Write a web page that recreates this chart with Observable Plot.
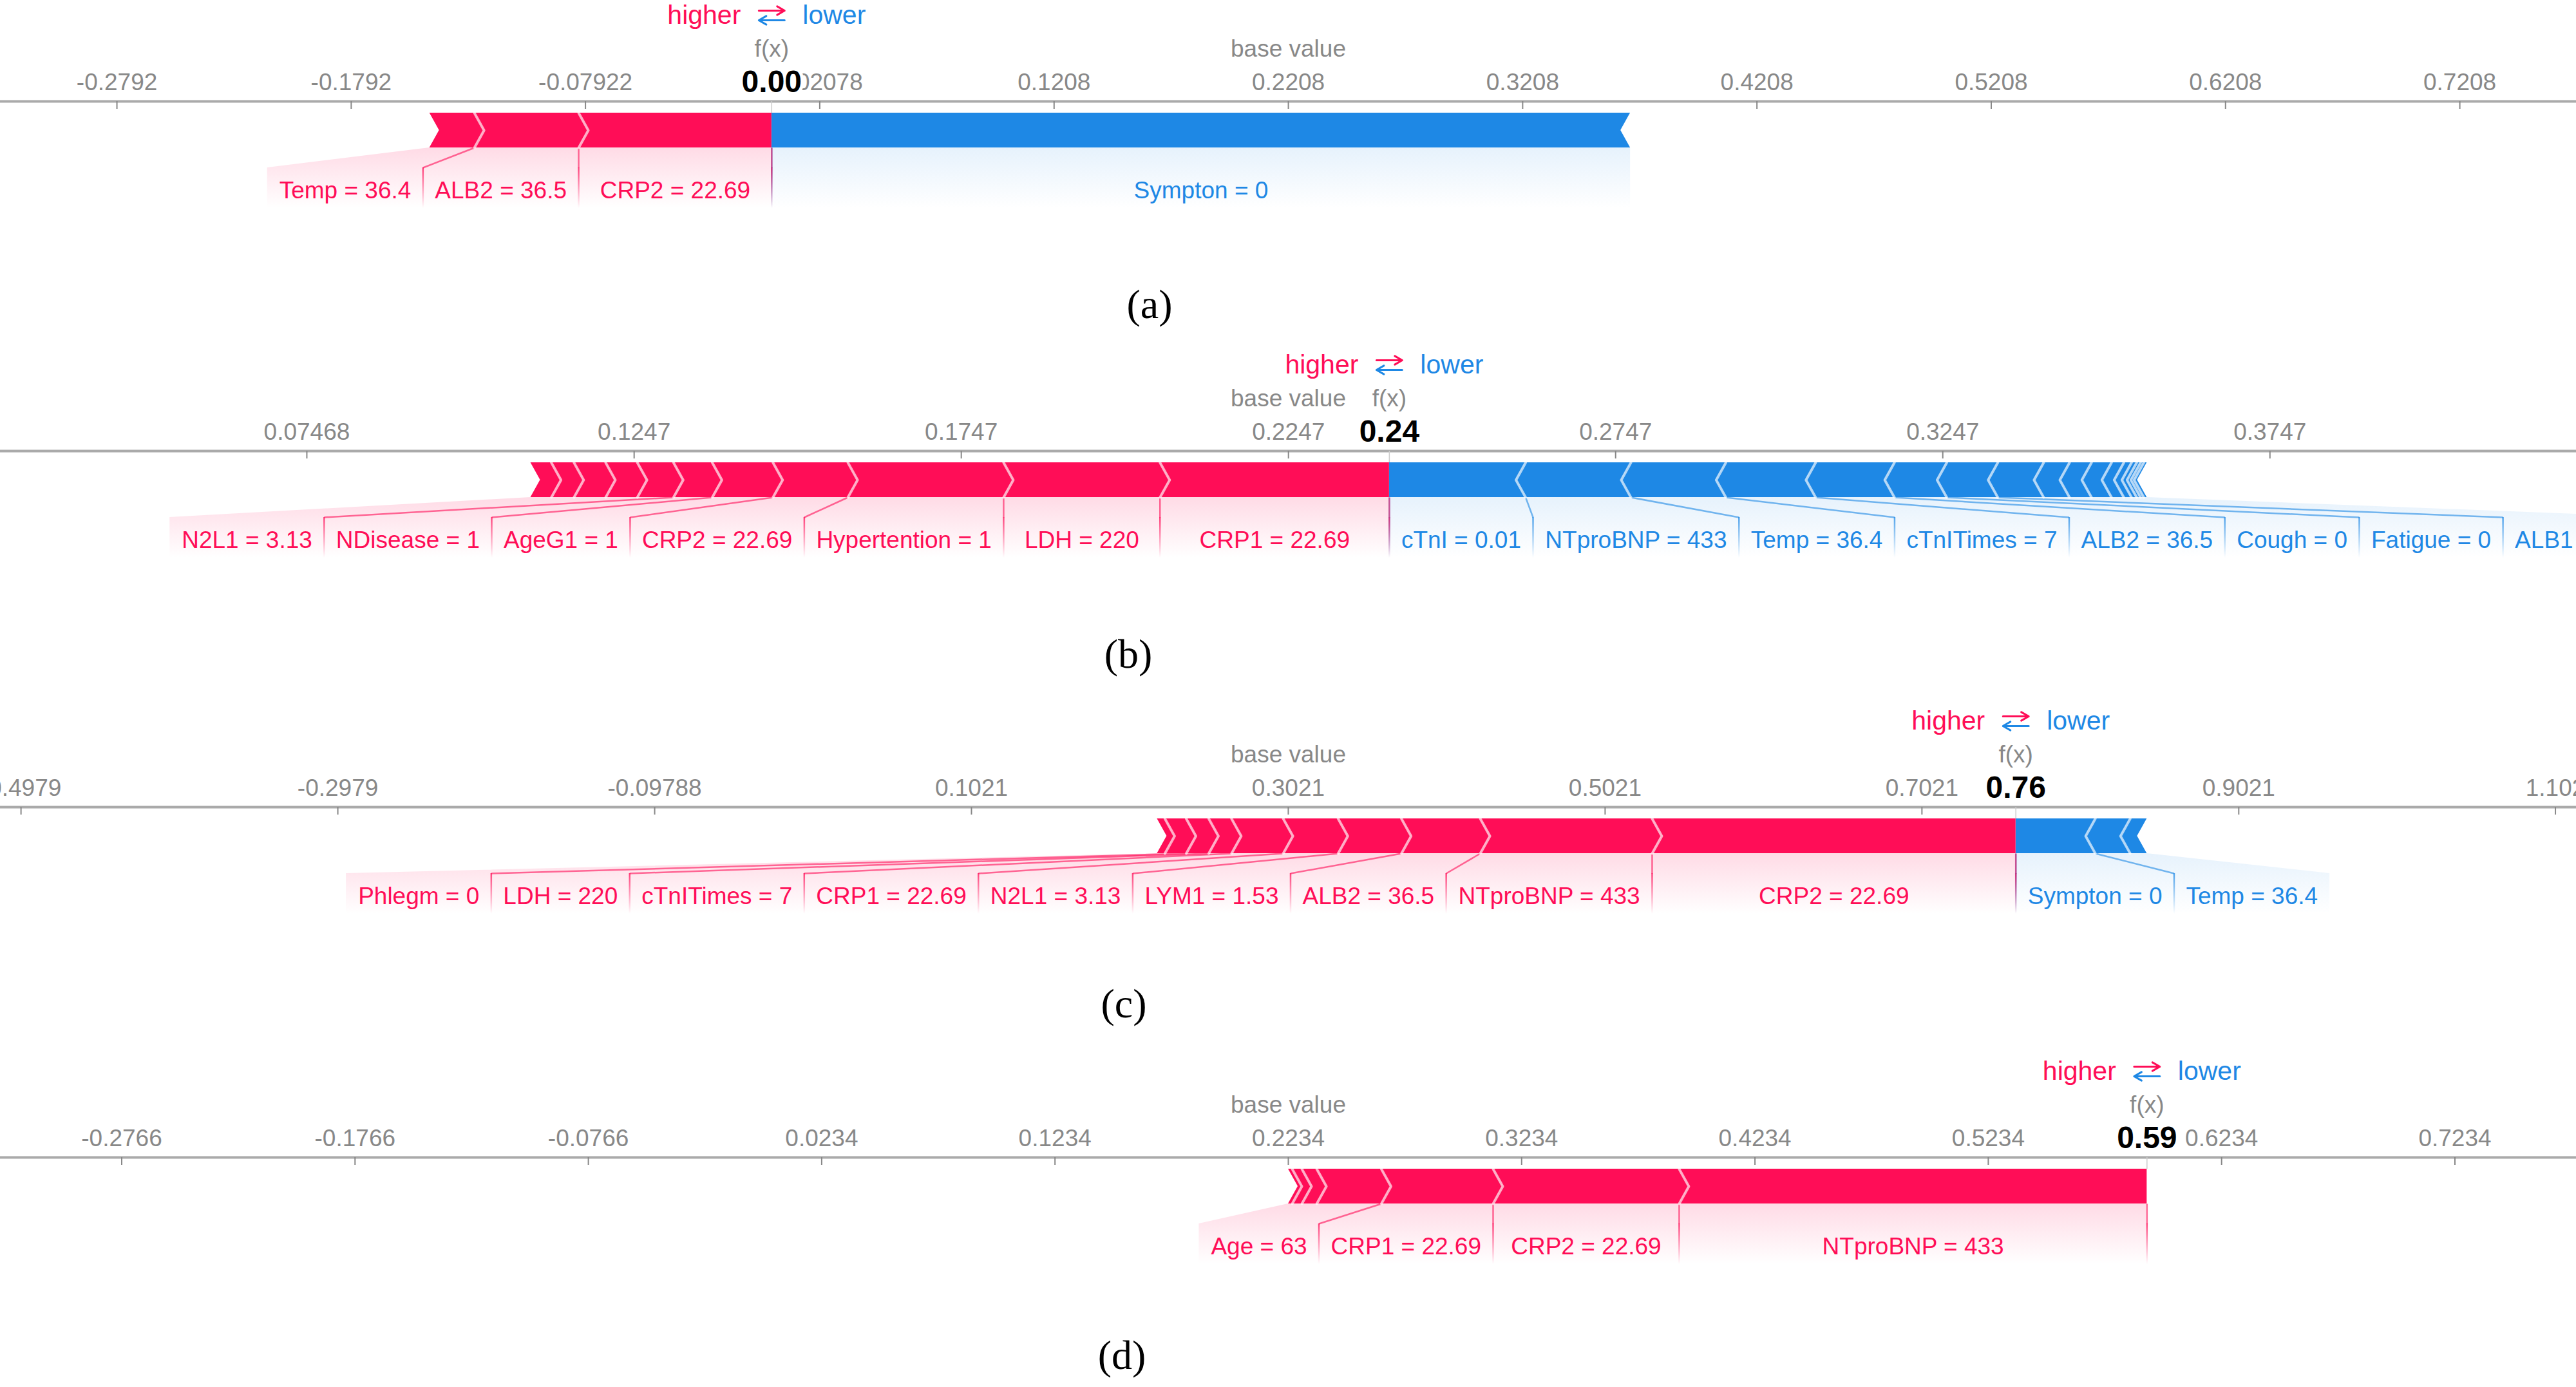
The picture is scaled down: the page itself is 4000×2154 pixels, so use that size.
<!DOCTYPE html>
<html><head><meta charset="utf-8">
<script src="https://cdn.jsdelivr.net/npm/d3@7"></script>
<script src="https://cdn.jsdelivr.net/npm/@observablehq/plot@0.6"></script>
<style>
html,body{margin:0;padding:0;background:#fff;overflow:hidden}
#root{position:relative;width:4000px;height:2154px;background:#fff}
.panel{position:absolute;left:0}
.cap{position:absolute;font-family:"Liberation Serif","Times New Roman",serif;font-size:64px;line-height:64px;color:#000;transform:translate(-50%,0);white-space:nowrap}
</style></head><body><div id="root"></div>
<script>
// ===================== DATA =====================
const captions = ["(a)", "(b)", "(c)", "(d)"];

// (a)
const baseA = 0.22078;
const posNamesA = ["CRP2", "ALB2", "Temp"];
const posValsA = [22.69, 36.5, 36.4];
const posShapA = [0.0824, 0.0445, 0.0191];
const negNamesA = ["Sympton"];
const negValsA = [0];
const negShapA = [0.3665];
const ticksA = ["-0.2792", "-0.1792", "-0.07922", "0.02078", "0.1208", "0.2208", "0.3208", "0.4208", "0.5208", "0.6208", "0.7208"];

// (b)
const baseB = 0.22468;
const posNamesB = ["CRP1", "LDH", "Hypertention", "CRP2", "AgeG1", "NDisease", "N2L1", null, null, null, null];
const posValsB = [22.69, 220, 1, 22.69, 1, 1, 3.13, null, null, null, null];
const posShapB = [0.03505, 0.0239, 0.0238, 0.01145, 0.00928, 0.00592, 0.00553, 0.00484, 0.00484, 0.00346, 0.00316];
const negNamesB = ["cTnI", "NTproBNP", "Temp", "cTnITimes", "ALB2", "Cough", "Fatigue", "ALB1", null, null, null, null, null, null, null, null, null];
const negValsB = [0.01, 433, 36.4, 7, 36.5, 0, 0, 36.5, null, null, null, null, null, null, null, null, null];
const negShapB = [0.02083, 0.01609, 0.01451, 0.01372, 0.01204, 0.0080, 0.0078, 0.00701, 0.00395, 0.00336, 0.00306, 0.00188, 0.00118, 0.00079, 0.00059, 0.00049, 0.00049];
const ticksB = ["0.07468", "0.1247", "0.1747", "0.2247", "0.2747", "0.3247", "0.3747"];

// (c)
const baseC = 0.30212;
const posNamesC = ["CRP2", "NTproBNP", "ALB2", "LYM1", "N2L1", "CRP1", "cTnITimes", "LDH", "Phlegm", null];
const posValsC = [22.69, 433, 36.5, 1.53, 3.13, 22.69, 7, 220, 0, null];
const posShapC = [0.2296, 0.1085, 0.04975, 0.03997, 0.03466, 0.03262, 0.0144, 0.0142, 0.01346, 0.00489];
const negNamesC = ["Sympton", "Temp", null];
const negValsC = [0, 36.4, null];
const negShapC = [0.05016, 0.02202, 0.0106];
const ticksC = ["-0.4979", "-0.2979", "-0.09788", "0.1021", "0.3021", "0.5021", "0.7021", "0.9021", "1.102"];

// (d)
const baseD = 0.2234;
const posNamesD = ["NTproBNP", "CRP2", "CRP1", "Age", null, null, null];
const posValsD = [433, 22.69, 22.69, 63, null, null, null];
const posShapD = [0.2005, 0.07975, 0.0479, 0.02769, 0.00637, 0.00415, 0.00166];
const negNamesD = [];
const negValsD = [];
const negShapD = [];
const ticksD = ["-0.2766", "-0.1766", "-0.0766", "0.0234", "0.1234", "0.2234", "0.3234", "0.4234", "0.5234", "0.6234", "0.7234"];

const panels = [
  {base: baseA, posNames: posNamesA, posVals: posValsA, posShap: posShapA, negNames: negNamesA, negVals: negValsA, negShap: negShapA, ticks: ticksA},
  {base: baseB, posNames: posNamesB, posVals: posValsB, posShap: posShapB, negNames: negNamesB, negVals: negValsB, negShap: negShapB, ticks: ticksB},
  {base: baseC, posNames: posNamesC, posVals: posValsC, posShap: posShapC, negNames: negNamesC, negVals: negValsC, negShap: negShapC, ticks: ticksC},
  {base: baseD, posNames: posNamesD, posVals: posValsD, posShap: posShapD, negNames: negNamesD, negVals: negValsD, negShap: negShapD, ticks: ticksD}
];

// ===================== LAYOUT / STYLE =====================
const W = 4000, AX = 160, H = 335;
const axisY = [157, 700, 1253, 1797];
const capPos = [[1785, 480], [1752, 1023], [1745, 1566], [1742, 2112]];
const BAR_T = AX + 18, BAR_B = AX + 72, BAR_M = (BAR_T + BAR_B) / 2;
const LINK_Y = AX + 103, LAB_Y = AX + 150, BOT_Y = AX + 166;
const TIP = 15, PAD = 37, LABEL_FONT = 37;
const RED = "#ff0d57", BLUE = "#1e88e5";
const FONT = '"Liberation Sans", Arial, sans-serif';

const cv = document.createElement("canvas").getContext("2d");
cv.font = `${LABEL_FONT}px "Liberation Sans"`;
const textW = s => cv.measureText(s).width;

function addDefs(svg, k) {
  const NS = "http://www.w3.org/2000/svg";
  const defs = document.createElementNS(NS, "defs");
  const mk = (id, color, o0, y1, y2) => {
    const g = document.createElementNS(NS, "linearGradient");
    g.setAttribute("id", id);
    g.setAttribute("gradientUnits", "userSpaceOnUse");
    g.setAttribute("x1", 0); g.setAttribute("x2", 0);
    g.setAttribute("y1", y1); g.setAttribute("y2", y2);
    [[0, o0], [1, 0]].forEach(([off, op]) => {
      const s = document.createElementNS(NS, "stop");
      s.setAttribute("offset", off);
      s.setAttribute("stop-color", color);
      s.setAttribute("stop-opacity", op);
      g.appendChild(s);
    });
    defs.appendChild(g);
  };
  mk(`bgR${k}`, RED, 0.15, BAR_B, BOT_Y);
  mk(`bgB${k}`, BLUE, 0.11, BAR_B, BOT_Y);
  mk(`dvR${k}`, RED, 0.75, LINK_Y, BOT_Y);
  mk(`dvB${k}`, BLUE, 0.75, LINK_Y, BOT_Y);
  svg.insertBefore(defs, svg.firstChild);
}

function buildPanel(P, k) {
  const sumPos = d3.sum(P.posShap), sumNeg = d3.sum(P.negShap);
  const fx = P.base + sumPos - sumNeg;
  const M = Math.max(sumPos, sumNeg);
  const domain = [P.base - 1.5 * M, P.base + 1.5 * M];
  const sx = Plot.scale({x: {domain, range: [0, W]}});
  const px = v => sx.apply(v), inv = p => sx.invert(p);
  const tipU = TIP * (domain[1] - domain[0]) / W;

  // segments
  const reds = [], blues = [];
  let cur = fx;
  P.posShap.forEach((e, i) => { reds.push({i, name: P.posNames[i], val: P.posVals[i], lo: cur - e, hi: cur}); cur -= e; });
  const redEnd = cur;
  cur = fx;
  P.negShap.forEach((e, i) => { blues.push({i, name: P.negNames[i], val: P.negVals[i], lo: cur, hi: cur + e}); cur += e; });
  const blueEnd = cur;

  // blocks (chevrons)
  const redBlocks = [], blueBlocks = [], seps = [];
  reds.forEach((s, i) => {
    const id = "r" + i;
    redBlocks.push({id, y: BAR_T, x1: s.lo, x2: s.hi},
                   {id, y: BAR_M, x1: s.lo + tipU, x2: i === 0 ? s.hi : s.hi + tipU},
                   {id, y: BAR_B, x1: s.lo, x2: s.hi});
    if (i > 0) seps.push({id: "sr" + i, x: s.hi, y: BAR_T}, {id: "sr" + i, x: s.hi + tipU, y: BAR_M}, {id: "sr" + i, x: s.hi, y: BAR_B});
  });
  blues.forEach((s, i) => {
    const id = "b" + i;
    blueBlocks.push({id, y: BAR_T, x1: s.lo, x2: s.hi},
                    {id, y: BAR_M, x1: i === 0 ? s.lo : s.lo - tipU, x2: s.hi - tipU},
                    {id, y: BAR_B, x1: s.lo, x2: s.hi});
    if (i > 0) seps.push({id: "sb" + i, x: s.lo, y: BAR_T}, {id: "sb" + i, x: s.lo - tipU, y: BAR_M}, {id: "sb" + i, x: s.lo, y: BAR_B});
  });

  // labels
  const redLab = reds.filter(s => s.name), blueLab = blues.filter(s => s.name);
  const backR = [], backB = [], linksR = [], linksB = [], divR = [], divB = [], texts = [];
  let edge = px(fx);
  redLab.forEach((s, j) => {
    const t = `${s.name} = ${s.val}`;
    const w = Math.max(textW(t) + PAD, px(s.hi) - px(s.lo));
    const c = (px(s.lo) + px(s.hi)) / 2;
    const R = Math.min(c + w / 2, edge), L = R - w;
    edge = L;
    const id = "br" + j;
    const lo = j === redLab.length - 1 ? redEnd : s.lo;
    backR.push({id, y: BAR_B, x1: lo, x2: s.hi}, {id, y: LINK_Y, x1: inv(L), x2: inv(R)}, {id, y: BOT_Y, x1: inv(L), x2: inv(R)});
    linksR.push({x1: s.hi, x2: inv(R)});
    divR.push(inv(R));
    texts.push({x: inv((L + R) / 2), text: t, color: RED});
  });
  edge = px(fx);
  blueLab.forEach((s, j) => {
    const t = `${s.name} = ${s.val}`;
    const w = Math.max(textW(t) + PAD, px(s.hi) - px(s.lo));
    const c = (px(s.lo) + px(s.hi)) / 2;
    const L = Math.max(c - w / 2, edge), R = L + w;
    edge = R;
    const id = "bb" + j;
    const hi = j === blueLab.length - 1 ? blueEnd : s.hi;
    backB.push({id, y: BAR_B, x1: s.lo, x2: hi}, {id, y: LINK_Y, x1: inv(L), x2: inv(R)}, {id, y: BOT_Y, x1: inv(L), x2: inv(R)});
    linksB.push({x1: s.lo, x2: inv(L)});
    divB.push(inv(L));
    texts.push({x: inv((L + R) / 2), text: t, color: BLUE});
  });

  const arrowHalf = 20 * (domain[1] - domain[0]) / W;

  const svg = Plot.plot({
    width: W, height: H,
    marginLeft: 0, marginRight: 0, marginTop: 0, marginBottom: 0,
    x: {domain, range: [0, W], axis: null},
    y: {domain: [0, H], range: [0, H], axis: null},
    style: {fontFamily: FONT, background: "transparent", overflow: "hidden"},
    marks: [
      // label backings
      Plot.areaX(backB, {y: "y", x1: "x1", x2: "x2", z: "id", fill: `url(#bgB${k})`, curve: "linear"}),
      Plot.areaX(backR, {y: "y", x1: "x1", x2: "x2", z: "id", fill: `url(#bgR${k})`, curve: "linear"}),
      // dividers
      Plot.ruleX(divB, {x: d => d, y1: LINK_Y, y2: BOT_Y, stroke: `url(#dvB${k})`, strokeWidth: 2.5}),
      Plot.ruleX(divR, {x: d => d, y1: LINK_Y, y2: BOT_Y, stroke: `url(#dvR${k})`, strokeWidth: 2.5}),
      // links
      Plot.link(linksB, {x1: "x1", x2: "x2", y1: BAR_B, y2: LINK_Y, stroke: BLUE, strokeOpacity: 0.6, strokeWidth: 2.5}),
      Plot.link(linksR, {x1: "x1", x2: "x2", y1: BAR_B, y2: LINK_Y, stroke: RED, strokeOpacity: 0.6, strokeWidth: 2.5}),
      // force blocks
      Plot.areaX(blueBlocks, {y: "y", x1: "x1", x2: "x2", z: "id", fill: BLUE, curve: "linear"}),
      Plot.areaX(redBlocks, {y: "y", x1: "x1", x2: "x2", z: "id", fill: RED, curve: "linear"}),
      Plot.line(seps, {x: "x", y: "y", z: "id", stroke: "white", strokeOpacity: 0.65, strokeWidth: 4, curve: "linear"}),
      // axis
      Plot.ruleY([AX], {y: d => d, stroke: "#aaaaaa", strokeWidth: 4}),
      Plot.ruleX(P.ticks, {x: d => +d, y1: AX, y2: AX + 12, stroke: "#888", strokeWidth: 2}),
      Plot.ruleX([fx], {x: d => d, y1: AX, y2: BAR_T, stroke: "#cccccc", strokeWidth: 1.5}),
      Plot.text(P.ticks, {x: d => +d, y: AX - 18, text: d => d, fontSize: 37, fill: "#888", lineAnchor: "bottom", fontFamily: FONT}),
      // base value / f(x) captions
      Plot.text(["base value"], {x: () => P.base, y: AX - 70, text: d => d, fontSize: 37, fill: "#888", lineAnchor: "bottom", fontFamily: FONT, stroke: "white", strokeWidth: 6}),
      Plot.text(["f(x)"], {x: () => fx, y: AX - 70, text: d => d, fontSize: 37, fill: "#888", lineAnchor: "bottom", fontFamily: FONT, stroke: "white", strokeWidth: 6}),
      Plot.text([fx], {x: d => d, y: AX - 15, text: d => d3.format(".2f")(d), fontSize: 48, fontWeight: "bold", fill: "#000", stroke: "white", strokeWidth: 10, lineAnchor: "bottom", fontFamily: FONT}),
      // higher ⇄ lower
      Plot.text(["higher"], {x: () => fx, y: AX - 121, dx: -48, text: d => d, textAnchor: "end", fontSize: 41, fill: RED, lineAnchor: "bottom", fontFamily: FONT}),
      Plot.text(["lower"], {x: () => fx, y: AX - 121, dx: 48, text: d => d, textAnchor: "start", fontSize: 41, fill: BLUE, lineAnchor: "bottom", fontFamily: FONT}),
      Plot.arrow([fx], {x1: d => d - arrowHalf, x2: d => d + arrowHalf, y1: AX - 141, y2: AX - 141, stroke: RED, strokeWidth: 3, headLength: 12, bend: 0}),
      Plot.arrow([fx], {x1: d => d + arrowHalf, x2: d => d - arrowHalf, y1: AX - 126, y2: AX - 126, stroke: BLUE, strokeWidth: 3, headLength: 12, bend: 0}),
      // feature labels
      Plot.text(texts, {x: "x", y: LAB_Y, text: "text", fill: d => d.color, fontSize: LABEL_FONT, lineAnchor: "bottom", fontFamily: FONT})
    ]
  });
  addDefs(svg, k);
  return svg;
}

const root = document.getElementById("root");
panels.forEach((P, k) => {
  const svg = buildPanel(P, k);
  svg.classList.add("panel");
  svg.style.position = "absolute";
  svg.style.left = "0px";
  svg.style.top = (axisY[k] - AX) + "px";
  root.appendChild(svg);
  const cap = document.createElement("div");
  cap.className = "cap";
  cap.textContent = captions[k];
  cap.style.left = capPos[k][0] + "px";
  cap.style.top = (capPos[k][1] - 39) + "px";
  root.appendChild(cap);
});
</script></body></html>
